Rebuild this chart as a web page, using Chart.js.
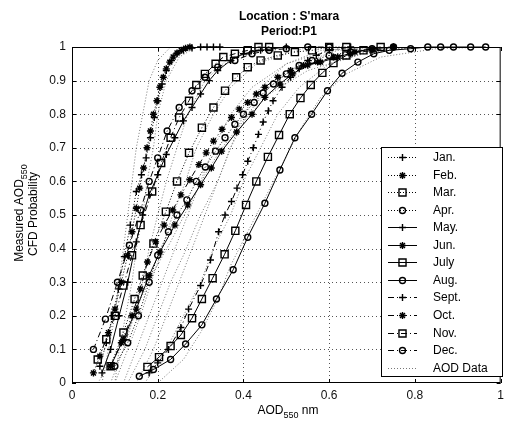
<!DOCTYPE html>
<html lang="en">
<head>
<meta charset="UTF-8">
<title>Location : S'mara - Period:P1</title>
<script src="https://cdn.jsdelivr.net/npm/chart.js"></script>
<style>
  html, body { margin: 0; padding: 0; background: #fff; }
  canvas { display: block; }
</style>
</head>
<body>
<canvas id="cfdChart" width="509" height="422"></canvas>
<script>
// --- data (AOD550, CFD probability) ---
const months = ['Jan.', 'Feb.', 'Mar.', 'Apr.', 'May.', 'Jun.', 'July', 'Aug.', 'Sept.', 'Oct.', 'Nov.', 'Dec.'];
const xTicks = [0, 0.2, 0.4, 0.6, 0.8, 1];
const yTicks = [0, 0.1, 0.2, 0.3, 0.4, 0.5, 0.6, 0.7, 0.8, 0.9, 1];

const jan = [[0.065,0.05],[0.08,0.12],[0.095,0.2],[0.108,0.28],[0.122,0.376],[0.136,0.47],[0.15,0.57],[0.162,0.62],[0.173,0.67],[0.183,0.73],[0.192,0.79],[0.2,0.84],[0.21,0.89],[0.22,0.93],[0.232,0.96],[0.245,0.98],[0.26,0.99],[0.28,0.997],[0.3,1],[0.315,1],[0.33,1],[0.345,1]];
const feb = [[0.05,0.03],[0.065,0.08],[0.085,0.15],[0.1,0.22],[0.115,0.3],[0.13,0.38],[0.14,0.45],[0.15,0.52],[0.158,0.58],[0.167,0.64],[0.175,0.7],[0.183,0.75],[0.19,0.8],[0.198,0.84],[0.205,0.88],[0.213,0.91],[0.22,0.935],[0.228,0.955],[0.236,0.97],[0.245,0.982],[0.255,0.99],[0.265,0.996],[0.275,1]];
const mar = [[0.09,0.05],[0.12,0.15],[0.146,0.25],[0.165,0.32],[0.19,0.415],[0.219,0.51],[0.245,0.6],[0.273,0.685],[0.303,0.76],[0.33,0.82],[0.357,0.87],[0.383,0.91],[0.41,0.94],[0.44,0.96],[0.48,0.975],[0.52,0.985],[0.56,0.99],[0.6,1],[0.64,1]];
const apr = [[0.1,0.05],[0.13,0.12],[0.155,0.2],[0.18,0.3],[0.2,0.38],[0.225,0.45],[0.245,0.5],[0.268,0.545],[0.29,0.6],[0.311,0.643],[0.335,0.69],[0.357,0.73],[0.38,0.77],[0.4,0.8],[0.425,0.835],[0.446,0.863],[0.47,0.89],[0.5,0.92],[0.53,0.945],[0.56,0.96],[0.6,0.975],[0.65,0.985],[0.7,0.995],[0.75,1]];
const may = [[0.07,0.03],[0.09,0.1],[0.11,0.2],[0.13,0.3],[0.15,0.42],[0.165,0.5],[0.18,0.56],[0.2,0.62],[0.22,0.68],[0.24,0.73],[0.26,0.78],[0.28,0.82],[0.3,0.86],[0.32,0.9],[0.34,0.93],[0.37,0.96],[0.4,0.98],[0.44,0.99],[0.5,1]];
const jun = [[0.09,0.05],[0.12,0.13],[0.15,0.22],[0.18,0.32],[0.205,0.39],[0.24,0.47],[0.27,0.53],[0.3,0.59],[0.325,0.64],[0.349,0.69],[0.384,0.747],[0.42,0.8],[0.45,0.85],[0.485,0.89],[0.515,0.92],[0.55,0.946],[0.58,0.955],[0.62,0.97],[0.66,0.985],[0.7,0.995],[0.75,1]];
const jul = [[0.176,0.048],[0.203,0.077],[0.23,0.11],[0.254,0.143],[0.28,0.193],[0.303,0.25],[0.328,0.312],[0.356,0.383],[0.381,0.453],[0.406,0.53],[0.43,0.6],[0.457,0.673],[0.483,0.738],[0.508,0.8],[0.533,0.848],[0.557,0.887],[0.584,0.923],[0.61,0.952],[0.64,0.975],[0.68,0.99],[0.72,1]];
const aug = [[0.157,0.02],[0.19,0.04],[0.23,0.07],[0.265,0.116],[0.303,0.173],[0.337,0.25],[0.376,0.337],[0.41,0.434],[0.45,0.535],[0.485,0.634],[0.52,0.73],[0.559,0.8],[0.596,0.87],[0.63,0.922],[0.667,0.955],[0.704,0.98],[0.74,0.99],[0.79,0.995],[0.83,1],[0.86,1],[0.89,1],[0.93,1],[0.965,1]];
const sep = [[0.18,0.03],[0.2,0.06],[0.225,0.1],[0.254,0.165],[0.272,0.22],[0.3,0.29],[0.323,0.366],[0.342,0.45],[0.357,0.5],[0.372,0.54],[0.385,0.58],[0.398,0.62],[0.41,0.66],[0.423,0.7],[0.435,0.74],[0.446,0.777],[0.458,0.81],[0.469,0.84],[0.49,0.88],[0.51,0.91],[0.53,0.935],[0.55,0.96],[0.57,0.975],[0.6,0.99],[0.65,1]];
const oct = [[0.09,0.05],[0.115,0.12],[0.14,0.2],[0.16,0.28],[0.176,0.36],[0.195,0.42],[0.215,0.47],[0.235,0.515],[0.254,0.56],[0.275,0.605],[0.296,0.65],[0.313,0.685],[0.33,0.72],[0.35,0.755],[0.372,0.79],[0.39,0.815],[0.41,0.835],[0.43,0.86],[0.45,0.88],[0.48,0.91],[0.51,0.93],[0.54,0.945],[0.573,0.955],[0.61,0.97],[0.65,0.98],[0.7,0.99],[0.75,1]];
const nov = [[0.06,0.07],[0.08,0.13],[0.1,0.2],[0.12,0.29],[0.14,0.38],[0.16,0.47],[0.187,0.57],[0.208,0.655],[0.23,0.73],[0.25,0.79],[0.273,0.84],[0.29,0.887],[0.31,0.92],[0.335,0.95],[0.353,0.97],[0.38,0.98],[0.41,0.99],[0.435,1],[0.46,1]];
const dec = [[0.05,0.1],[0.078,0.19],[0.106,0.3],[0.134,0.41],[0.16,0.515],[0.18,0.6],[0.2,0.67],[0.222,0.75],[0.25,0.82],[0.28,0.87],[0.31,0.91],[0.34,0.94],[0.38,0.96],[0.42,0.98],[0.46,0.99],[0.5,0.995],[0.55,1],[0.6,1]];

// raw empirical CFDs (dotted grey "AOD Data")
const aodA = [[0.07,0],[0.085,0.1],[0.1,0.2],[0.11,0.3],[0.12,0.4],[0.13,0.5],[0.14,0.6],[0.15,0.7],[0.165,0.8],[0.18,0.9],[0.2,0.96],[0.23,1]];
const aodB = [[0.1,0],[0.11,0.1],[0.125,0.2],[0.14,0.3],[0.15,0.4],[0.165,0.5],[0.175,0.6],[0.19,0.7],[0.2,0.8],[0.22,0.9],[0.25,0.97],[0.29,1]];
const aodC = [[0.09,0],[0.12,0.1],[0.145,0.2],[0.165,0.3],[0.18,0.4],[0.2,0.5],[0.22,0.6],[0.245,0.7],[0.27,0.8],[0.31,0.9],[0.36,0.96],[0.45,1]];
const aodD = [[0.1,0],[0.13,0.1],[0.16,0.2],[0.185,0.3],[0.21,0.4],[0.235,0.5],[0.265,0.6],[0.29,0.7],[0.33,0.8],[0.37,0.88],[0.43,0.95],[0.55,1]];
const aodE = [[0.12,0],[0.15,0.1],[0.18,0.2],[0.21,0.3],[0.24,0.4],[0.27,0.5],[0.3,0.6],[0.33,0.7],[0.37,0.8],[0.42,0.88],[0.5,0.95],[0.6,0.99],[0.7,1]];
const aodF = [[0.13,0],[0.17,0.1],[0.2,0.2],[0.23,0.3],[0.26,0.38],[0.3,0.5],[0.34,0.6],[0.37,0.7],[0.41,0.8],[0.46,0.88],[0.53,0.95],[0.62,0.99],[0.75,1]];
const aodG = [[0.15,0],[0.19,0.1],[0.22,0.2],[0.25,0.3],[0.28,0.4],[0.31,0.5],[0.34,0.6],[0.37,0.7],[0.4,0.8],[0.44,0.88],[0.5,0.95],[0.58,0.99],[0.7,1]];
const aodH = [[0.17,0],[0.22,0.1],[0.26,0.2],[0.3,0.3],[0.33,0.4],[0.37,0.5],[0.4,0.6],[0.44,0.7],[0.48,0.8],[0.53,0.88],[0.6,0.95],[0.7,0.99],[0.82,1]];
const aodI = [[0.2,0],[0.26,0.07],[0.3,0.15],[0.34,0.25],[0.37,0.35],[0.41,0.45],[0.45,0.55],[0.49,0.65],[0.53,0.75],[0.58,0.85],[0.64,0.92],[0.72,0.97],[0.85,0.995],[0.97,1]];
const aodJ = [[0.06,0],[0.1,0.08],[0.13,0.15],[0.16,0.25],[0.19,0.33],[0.23,0.42],[0.27,0.52],[0.31,0.62],[0.35,0.7],[0.4,0.78],[0.46,0.86],[0.55,0.93],[0.68,0.98],[0.8,1]];

const monthSeries = [jan, feb, mar, apr, may, jun, jul, aug, sep, oct, nov, dec];
const aodSeries = [aodA, aodB, aodC, aodD, aodE, aodF, aodG, aodH, aodI, aodJ];

// MATLAB-ish line specs
const lineKinds = ['dot','dot','dot','dot','solid','solid','solid','solid','dashdot','dashdot','dashdot','dashdot'];
const markerKinds = ['cross','star','rect','circle','cross','star','rect','circle','cross','star','rect','circle'];
const dashes = { solid: [], dot: [1, 2], dashdot: [6, 3, 1, 3] };
const radii = { cross: 3.5, star: 3.5, rect: 5, circle: 3 };
const FONT = '"Liberation Sans", Arial, Helvetica, sans-serif';

const toXY = arr => arr.map(([x, y]) => ({ x, y }));

const datasets = months.map((m, i) => ({
    label: m,
    data: toXY(monthSeries[i]),
    showLine: true,
    borderColor: '#000',
    borderWidth: 1,
    borderDash: dashes[lineKinds[i]],
    pointStyle: markerKinds[i],
    pointRadius: radii[markerKinds[i]],
    pointBorderColor: '#000',
    pointBackgroundColor: 'rgba(0,0,0,0)',
    pointBorderWidth: 1.4,
    clip: false,
    order: 0
}));
aodSeries.forEach(s => datasets.push({
    label: 'AOD Data',
    data: toXY(s),
    showLine: true,
    borderColor: '#777',
    borderWidth: 1,
    borderDash: [1, 2],
    pointRadius: 0,
    order: 1
}));

function drawParts(ctx, parts, cx, cy) {
    // draws text pieces (with subscripts) centred on cx
    let w = 0;
    parts.forEach(p => { ctx.font = p.font; w += ctx.measureText(p.t).width; });
    let x = cx - w / 2;
    ctx.textAlign = 'left';
    ctx.textBaseline = 'middle';
    parts.forEach(p => {
        ctx.font = p.font;
        ctx.fillText(p.t, x, cy + (p.dy || 0));
        x += ctx.measureText(p.t).width;
    });
}

const matlabFrame = {
    id: 'matlabFrame',
    beforeDatasetsDraw(chart) {
        const { ctx, chartArea: a, scales: { x, y } } = chart;
        ctx.save();
        ctx.strokeStyle = '#555';
        ctx.lineWidth = 1;
        ctx.setLineDash([1, 3]);
        ctx.beginPath();
        xTicks.slice(1, -1).forEach(v => {
            const px = Math.round(x.getPixelForValue(v)) + 0.5;
            ctx.moveTo(px, a.top); ctx.lineTo(px, a.bottom);
        });
        yTicks.slice(1, -1).forEach(v => {
            const py = Math.round(y.getPixelForValue(v)) + 0.5;
            ctx.moveTo(a.left, py); ctx.lineTo(a.right, py);
        });
        ctx.stroke();
        ctx.restore();
    },
    afterDatasetsDraw(chart) {
        const { ctx, chartArea: a, scales: { x, y } } = chart;
        ctx.save();
        // box + inward ticks
        ctx.strokeStyle = '#000';
        ctx.lineWidth = 1;
        ctx.setLineDash([]);
        ctx.strokeRect(a.left + 0.5, a.top + 0.5, a.right - a.left - 1, a.bottom - a.top - 1);
        ctx.beginPath();
        xTicks.forEach(v => {
            const px = Math.round(x.getPixelForValue(v)) + 0.5;
            ctx.moveTo(px, a.bottom); ctx.lineTo(px, a.bottom - 4);
            ctx.moveTo(px, a.top); ctx.lineTo(px, a.top + 4);
        });
        yTicks.forEach(v => {
            const py = Math.round(y.getPixelForValue(v)) + 0.5;
            ctx.moveTo(a.left, py); ctx.lineTo(a.left + 4, py);
            ctx.moveTo(a.right, py); ctx.lineTo(a.right - 4, py);
        });
        ctx.stroke();

        // legend box, lower right
        const lx = 381.5, ly = 147.5, lw = 121, lh = 229;
        ctx.fillStyle = '#fff';
        ctx.fillRect(lx, ly, lw, lh);
        ctx.strokeRect(lx, ly, lw, lh);
        const entries = chart.data.datasets.slice(0, months.length + 1);
        entries.forEach((ds, i) => {
            const ey = Math.round(157 + i * 17.55) + 0.5;
            ctx.save();
            ctx.strokeStyle = ds.borderColor;
            ctx.lineWidth = 1;
            ctx.setLineDash(ds.borderDash);
            ctx.beginPath();
            ctx.moveTo(388, ey); ctx.lineTo(417, ey);
            ctx.stroke();
            ctx.restore();
            if (ds.pointRadius > 0) {
                ctx.strokeStyle = '#000';
                ctx.fillStyle = 'rgba(0,0,0,0)';
                ctx.lineWidth = 1.4;
                Chart.helpers.drawPoint(ctx, { pointStyle: ds.pointStyle, radius: ds.pointRadius, rotation: 0, borderWidth: 1.4 }, 402.5, ey);
            }
            ctx.fillStyle = '#000';
            ctx.font = '12px ' + FONT;
            ctx.textAlign = 'left';
            ctx.textBaseline = 'middle';
            ctx.fillText(i < months.length ? months[i] : 'AOD Data', 433, ey);
        });
        ctx.restore();
    },
    afterDraw(chart) {
        const { ctx } = chart;
        ctx.save();
        ctx.fillStyle = '#000';
        const bold = 'bold 12px ' + FONT;
        drawParts(ctx, [{ t: "Location : S'mara", font: bold }], 289, 17);
        drawParts(ctx, [{ t: 'Period:P1', font: bold }], 289, 32);

        const reg = '12px ' + FONT, sub = '9px ' + FONT;
        drawParts(ctx, [{ t: 'AOD', font: reg }, { t: '550', font: sub, dy: 5 }, { t: ' nm', font: reg }], 288, 411);

        ctx.save();
        ctx.translate(20, 213);
        ctx.rotate(-Math.PI / 2);
        drawParts(ctx, [{ t: 'Measured AOD', font: reg }, { t: '550', font: sub, dy: 5 }], 0, 0);
        ctx.restore();
        ctx.save();
        ctx.translate(34, 214);
        ctx.rotate(-Math.PI / 2);
        drawParts(ctx, [{ t: 'CFD Probability', font: reg }], 0, 0);
        ctx.restore();
        ctx.restore();
    }
};

const fmt = v => String(Math.round(v * 10) / 10);

new Chart(document.getElementById('cfdChart'), {
    type: 'scatter',
    data: { datasets },
    options: {
        responsive: false,
        animation: false,
        events: [],
        layout: { padding: { top: 47, right: 4, left: 0, bottom: 0 } },
        elements: { line: { tension: 0 } },
        plugins: { legend: { display: false }, tooltip: { enabled: false }, title: { display: false } },
        scales: {
            x: {
                type: 'linear', min: 0, max: 1,
                afterBuildTicks: s => { s.ticks = xTicks.map(v => ({ value: v })); },
                afterFit: s => { s.height = 39; },
                grid: { display: false, drawTicks: false },
                border: { display: false },
                ticks: { padding: 5, color: '#111', font: { family: FONT, size: 12 }, callback: fmt, maxRotation: 0 }
            },
            y: {
                type: 'linear', min: 0, max: 1,
                afterBuildTicks: s => { s.ticks = yTicks.map(v => ({ value: v })); },
                afterFit: s => { s.width = 72; },
                grid: { display: false, drawTicks: false },
                border: { display: false },
                ticks: { padding: 6, color: '#111', font: { family: FONT, size: 12 }, callback: fmt }
            }
        }
    },
    plugins: [matlabFrame]
});
</script>
</body>
</html>
